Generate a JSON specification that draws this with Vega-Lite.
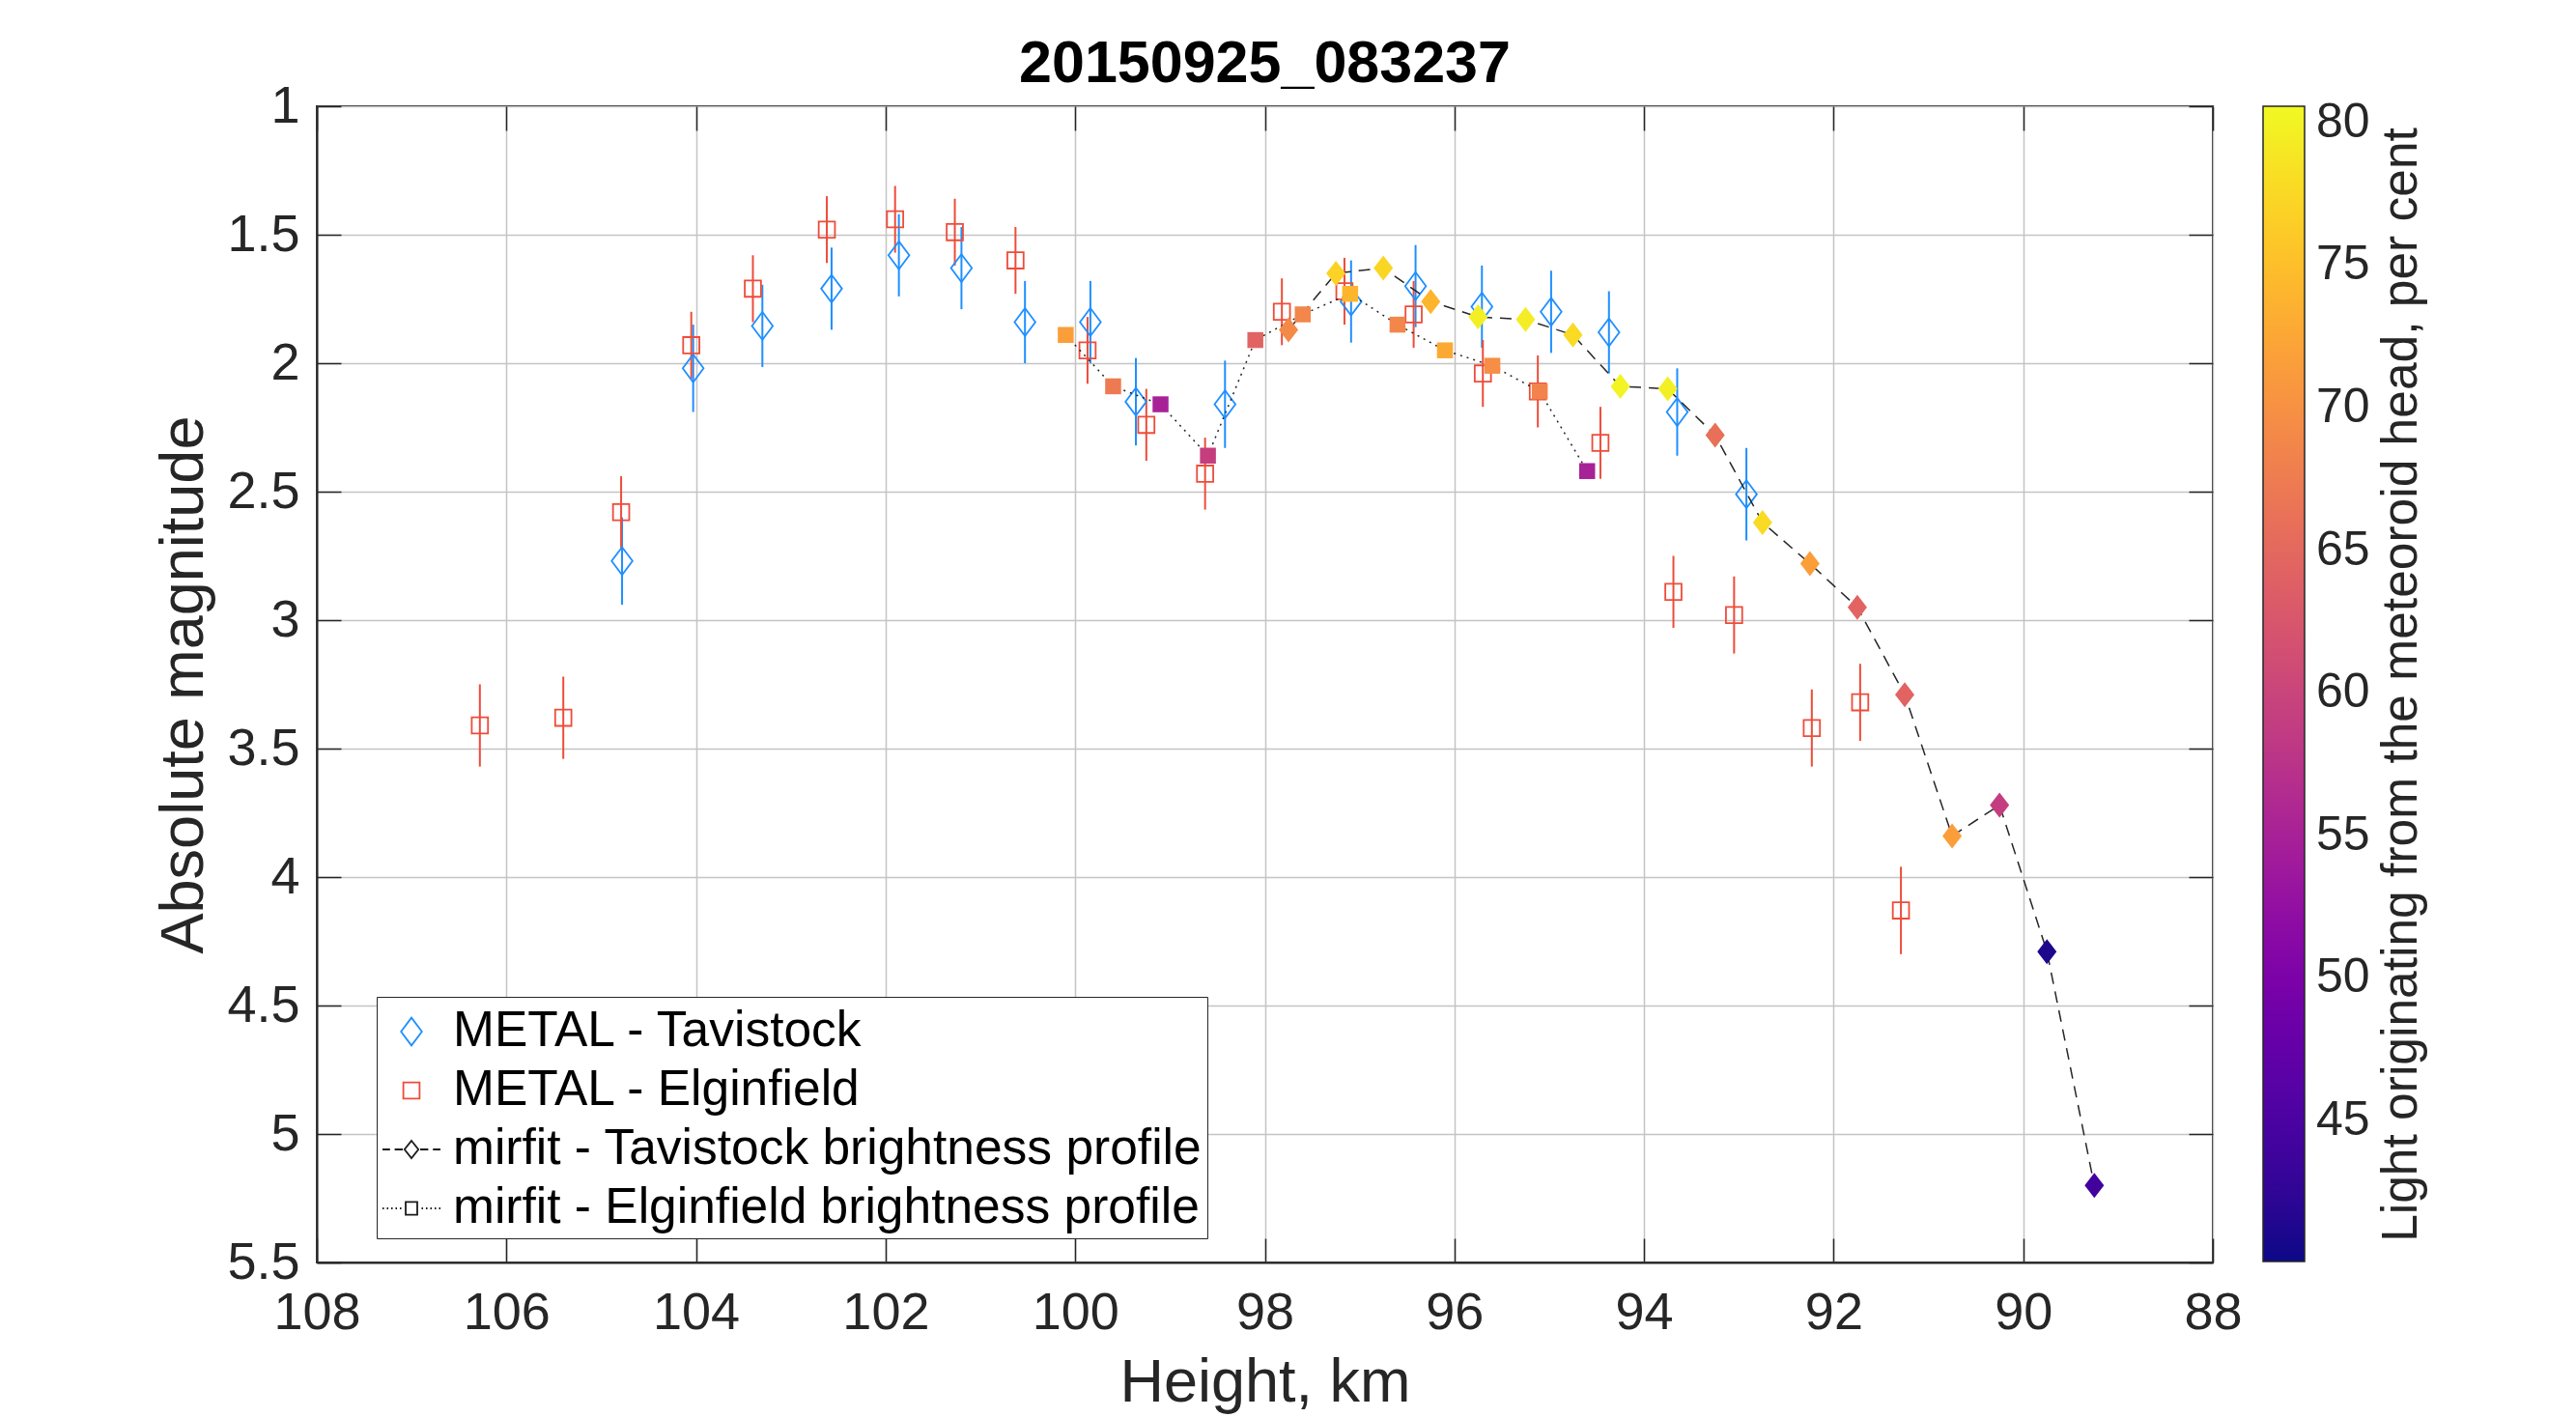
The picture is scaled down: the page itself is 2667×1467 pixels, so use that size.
{
  "$schema": "https://vega.github.io/schema/vega-lite/v6.json",
  "width": 1963,
  "height": 1197,
  "autosize": {"type": "none"},
  "padding": {"left": 328, "top": 110, "right": 376, "bottom": 160},
  "background": "white",
  "config": {
    "font": "Liberation Sans",
    "view": {"stroke": "#262626", "strokeWidth": 2},
    "axis": {
      "labelFontSize": 54,
      "labelColor": "#262626",
      "titleFontSize": 63,
      "titleFontWeight": "normal",
      "titleColor": "#262626",
      "gridColor": "#c4c4c4",
      "gridWidth": 1.5,
      "domainColor": "#262626",
      "domainWidth": 2,
      "tickColor": "#262626",
      "tickWidth": 1.5,
      "tickSize": -25,
      "labelFlush": false,
      "labelOverlap": false
    }
  },
  "title": {
    "text": "20150925_083237",
    "fontSize": 61,
    "fontWeight": "bold",
    "color": "#000000",
    "offset": -15,
    "anchor": "middle"
  },
  "datasets": {
    "metal": [
      {"series": "METAL - Tavistock", "h": 104.78, "mag": 2.77, "err": 0.17},
      {"series": "METAL - Tavistock", "h": 104.03, "mag": 2.02, "err": 0.17},
      {"series": "METAL - Tavistock", "h": 103.30, "mag": 1.855, "err": 0.16},
      {"series": "METAL - Tavistock", "h": 102.57, "mag": 1.71, "err": 0.16},
      {"series": "METAL - Tavistock", "h": 101.86, "mag": 1.58, "err": 0.16},
      {"series": "METAL - Tavistock", "h": 101.20, "mag": 1.63, "err": 0.16},
      {"series": "METAL - Tavistock", "h": 100.53, "mag": 1.84, "err": 0.16},
      {"series": "METAL - Tavistock", "h": 99.84, "mag": 1.84, "err": 0.16},
      {"series": "METAL - Tavistock", "h": 99.36, "mag": 2.15, "err": 0.17},
      {"series": "METAL - Tavistock", "h": 98.42, "mag": 2.16, "err": 0.17},
      {"series": "METAL - Tavistock", "h": 97.09, "mag": 1.76, "err": 0.16},
      {"series": "METAL - Tavistock", "h": 96.41, "mag": 1.70, "err": 0.16},
      {"series": "METAL - Tavistock", "h": 95.71, "mag": 1.78, "err": 0.16},
      {"series": "METAL - Tavistock", "h": 94.98, "mag": 1.80, "err": 0.16},
      {"series": "METAL - Tavistock", "h": 94.37, "mag": 1.88, "err": 0.16},
      {"series": "METAL - Tavistock", "h": 93.65, "mag": 2.19, "err": 0.17},
      {"series": "METAL - Tavistock", "h": 92.92, "mag": 2.51, "err": 0.18},
      {"series": "METAL - Elginfield", "h": 106.28, "mag": 3.41, "err": 0.16},
      {"series": "METAL - Elginfield", "h": 105.40, "mag": 3.38, "err": 0.16},
      {"series": "METAL - Elginfield", "h": 104.79, "mag": 2.58, "err": 0.14},
      {"series": "METAL - Elginfield", "h": 104.05, "mag": 1.93, "err": 0.13},
      {"series": "METAL - Elginfield", "h": 103.40, "mag": 1.71, "err": 0.13},
      {"series": "METAL - Elginfield", "h": 102.62, "mag": 1.48, "err": 0.13},
      {"series": "METAL - Elginfield", "h": 101.90, "mag": 1.44, "err": 0.13},
      {"series": "METAL - Elginfield", "h": 101.27, "mag": 1.49, "err": 0.13},
      {"series": "METAL - Elginfield", "h": 100.63, "mag": 1.60, "err": 0.13},
      {"series": "METAL - Elginfield", "h": 99.87, "mag": 1.95, "err": 0.13},
      {"series": "METAL - Elginfield", "h": 99.25, "mag": 2.24, "err": 0.14},
      {"series": "METAL - Elginfield", "h": 98.63, "mag": 2.43, "err": 0.14},
      {"series": "METAL - Elginfield", "h": 97.82, "mag": 1.80, "err": 0.13},
      {"series": "METAL - Elginfield", "h": 97.16, "mag": 1.72, "err": 0.13},
      {"series": "METAL - Elginfield", "h": 96.43, "mag": 1.81, "err": 0.13},
      {"series": "METAL - Elginfield", "h": 95.70, "mag": 2.04, "err": 0.13},
      {"series": "METAL - Elginfield", "h": 95.12, "mag": 2.11, "err": 0.14},
      {"series": "METAL - Elginfield", "h": 94.46, "mag": 2.31, "err": 0.14},
      {"series": "METAL - Elginfield", "h": 93.69, "mag": 2.89, "err": 0.14},
      {"series": "METAL - Elginfield", "h": 93.05, "mag": 2.98, "err": 0.15},
      {"series": "METAL - Elginfield", "h": 92.23, "mag": 3.42, "err": 0.15},
      {"series": "METAL - Elginfield", "h": 91.72, "mag": 3.32, "err": 0.15},
      {"series": "METAL - Elginfield", "h": 91.29, "mag": 4.13, "err": 0.17}
    ],
    "mirfit": [
      {"series": "Tavistock", "h": 97.75, "mag": 1.87, "pct": 69.2},
      {"series": "Tavistock", "h": 97.25, "mag": 1.65, "pct": 76.9},
      {"series": "Tavistock", "h": 96.75, "mag": 1.63, "pct": 77.3},
      {"series": "Tavistock", "h": 96.25, "mag": 1.76, "pct": 74.0},
      {"series": "Tavistock", "h": 95.75, "mag": 1.82, "pct": 79.7},
      {"series": "Tavistock", "h": 95.25, "mag": 1.83, "pct": 79.5},
      {"series": "Tavistock", "h": 94.75, "mag": 1.89, "pct": 77.7},
      {"series": "Tavistock", "h": 94.25, "mag": 2.09, "pct": 80.1},
      {"series": "Tavistock", "h": 93.75, "mag": 2.10, "pct": 79.7},
      {"series": "Tavistock", "h": 93.25, "mag": 2.28, "pct": 66.0},
      {"series": "Tavistock", "h": 92.75, "mag": 2.62, "pct": 77.7},
      {"series": "Tavistock", "h": 92.25, "mag": 2.78, "pct": 71.6},
      {"series": "Tavistock", "h": 91.75, "mag": 2.95, "pct": 64.3},
      {"series": "Tavistock", "h": 91.25, "mag": 3.29, "pct": 64.3},
      {"series": "Tavistock", "h": 90.75, "mag": 3.84, "pct": 71.6},
      {"series": "Tavistock", "h": 90.25, "mag": 3.72, "pct": 59.1},
      {"series": "Tavistock", "h": 89.75, "mag": 4.29, "pct": 41.0},
      {"series": "Tavistock", "h": 89.25, "mag": 5.20, "pct": 44.1},
      {"series": "Elginfield", "h": 100.1, "mag": 1.89, "pct": 71.6},
      {"series": "Elginfield", "h": 99.6, "mag": 2.09, "pct": 67.2},
      {"series": "Elginfield", "h": 99.1, "mag": 2.16, "pct": 55.0},
      {"series": "Elginfield", "h": 98.6, "mag": 2.36, "pct": 59.1},
      {"series": "Elginfield", "h": 98.1, "mag": 1.91, "pct": 64.3},
      {"series": "Elginfield", "h": 97.6, "mag": 1.81, "pct": 68.8},
      {"series": "Elginfield", "h": 97.1, "mag": 1.73, "pct": 74.0},
      {"series": "Elginfield", "h": 96.6, "mag": 1.85, "pct": 68.8},
      {"series": "Elginfield", "h": 96.1, "mag": 1.95, "pct": 72.8},
      {"series": "Elginfield", "h": 95.6, "mag": 2.01, "pct": 69.6},
      {"series": "Elginfield", "h": 95.1, "mag": 2.11, "pct": 68.4},
      {"series": "Elginfield", "h": 94.6, "mag": 2.42, "pct": 55.0}
    ]
  },
  "encoding": {
    "x": {
      "field": "h",
      "type": "quantitative",
      "title": "Height, km",
      "scale": {"domain": [88, 108], "reverse": true, "nice": false, "zero": false},
      "axis": {
        "values": [88, 90, 92, 94, 96, 98, 100, 102, 104, 106, 108],
        "labelPadding": 50,
        "titlePadding": 14
      }
    },
    "y": {
      "field": "mag",
      "type": "quantitative",
      "title": "Absolute magnitude",
      "scale": {"domain": [1, 5.5], "reverse": true, "nice": false, "zero": false},
      "axis": {
        "values": [1, 1.5, 2, 2.5, 3, 3.5, 4, 4.5, 5, 5.5],
        "format": "~g",
        "labelPadding": 43,
        "titlePadding": 12
      }
    }
  },
  "resolve": {"axis": {"x": "independent", "y": "independent"}},
  "layer": [
    {
      "layer": [
        {
          "data": {"name": "metal"},
          "transform": [{"filter": "datum.series == 'METAL - Tavistock'"}],
          "mark": {"type": "errorbar", "color": "#1f8fff", "thickness": 2},
          "encoding": {"yError": {"field": "err"}}
        },
        {
          "data": {"name": "metal"},
          "transform": [{"filter": "datum.series == 'METAL - Elginfield'"}],
          "mark": {"type": "errorbar", "color": "#ee4c3a", "thickness": 2},
          "encoding": {"yError": {"field": "err"}}
        },
        {
          "data": {"name": "metal"},
          "mark": {"type": "point", "filled": false, "size": 3600, "strokeWidth": 1.8, "opacity": 1},
          "encoding": {
            "shape": {
              "field": "series",
              "type": "nominal",
              "scale": {
                "domain": ["METAL - Tavistock", "METAL - Elginfield", "mirfit - Tavistock brightness profile", "mirfit - Elginfield brightness profile"],
                "range": [
                  "M0,-0.48L0.36,0L0,0.48L-0.36,0Z",
                  "M-0.28,-0.28L0.28,-0.28L0.28,0.28L-0.28,0.28Z",
                  "M-1,0L-0.74,0M-0.58,0L-0.3,0M0.3,0L0.58,0M0.74,0L1,0M0,-0.3L0.24,0L0,0.3L-0.24,0Z",
                  "M-1,0L-0.95,0M-0.85,0L-0.8,0M-0.7,0L-0.65,0M-0.55,0L-0.5,0M-0.4,0L-0.35,0M-0.2,-0.22L0.2,-0.22L0.2,0.22L-0.2,0.22ZM0.35,0L0.4,0M0.5,0L0.55,0M0.65,0L0.7,0M0.8,0L0.85,0M0.95,0L1,0"
                ]
              },
              "legend": {
                "title": null,
                "orient": "none",
                "legendX": 62,
                "legendY": 922,
                "padding": 5,
                "strokeColor": "#262626",
                "fillColor": "white",
                "symbolSize": 3600,
                "symbolStrokeWidth": 1.8,
                "labelFontSize": 51.5,
                "labelColor": "#000000",
                "labelOffset": 12,
                "labelLimit": 2000,
                "rowPadding": 4
              }
            },
            "stroke": {
              "field": "series",
              "type": "nominal",
              "scale": {
                "domain": ["METAL - Tavistock", "METAL - Elginfield", "mirfit - Tavistock brightness profile", "mirfit - Elginfield brightness profile"],
                "range": ["#1f8fff", "#ee4c3a", "#1a1a1a", "#1a1a1a"]
              },
              "legend": {
                "title": null,
                "orient": "none",
                "legendX": 62,
                "legendY": 922,
                "padding": 5,
                "strokeColor": "#262626",
                "fillColor": "white",
                "symbolSize": 3600,
                "symbolStrokeWidth": 1.8,
                "labelFontSize": 51.5,
                "labelColor": "#000000",
                "labelOffset": 12,
                "labelLimit": 2000,
                "rowPadding": 4
              }
            }
          }
        },
        {
          "data": {"name": "mirfit"},
          "transform": [{"filter": "datum.series == 'Tavistock'"}],
          "mark": {"type": "line", "color": "#262626", "strokeWidth": 1.5, "strokeDash": [12, 8]},
          "encoding": {}
        },
        {
          "data": {"name": "mirfit"},
          "transform": [{"filter": "datum.series == 'Elginfield'"}],
          "mark": {"type": "line", "color": "#262626", "strokeWidth": 1.5, "strokeDash": [2, 5]},
          "encoding": {}
        },
        {
          "data": {"name": "mirfit"},
          "transform": [{"filter": "datum.series == 'Elginfield'"}],
          "mark": {"type": "point", "filled": true, "shape": "square", "size": 272, "opacity": 1, "strokeWidth": 0},
          "encoding": {
            "color": {
              "field": "pct",
              "type": "quantitative",
              "scale": {"scheme": "plasma", "domain": [40.06, 80.56]},
              "legend": {
                "title": null,
                "orient": "none",
                "legendX": 2015,
                "legendY": 0,
                "padding": 0,
                "direction": "vertical",
                "gradientLength": 1196,
                "gradientThickness": 43,
                "gradientStrokeColor": "#262626",
                "gradientStrokeWidth": 1.5,
                "values": [45, 50, 55, 60, 65, 70, 75, 80],
                "labelFontSize": 50,
                "labelColor": "#262626",
                "labelOffset": 12,
                "labelOverlap": false
              }
            }
          }
        },
        {
          "data": {"name": "mirfit"},
          "transform": [{"filter": "datum.series == 'Tavistock'"}],
          "mark": {"type": "point", "filled": true, "shape": "M0,-1L0.77,0L0,1L-0.77,0Z", "size": 676, "opacity": 1, "strokeWidth": 0},
          "encoding": {
            "color": {
              "field": "pct",
              "type": "quantitative",
              "scale": {"scheme": "plasma", "domain": [40.06, 80.56]},
              "legend": {
                "title": null,
                "orient": "none",
                "legendX": 2015,
                "legendY": 0,
                "padding": 0,
                "direction": "vertical",
                "gradientLength": 1196,
                "gradientThickness": 43,
                "gradientStrokeColor": "#262626",
                "gradientStrokeWidth": 1.5,
                "values": [45, 50, 55, 60, 65, 70, 75, 80],
                "labelFontSize": 50,
                "labelColor": "#262626",
                "labelOffset": 12,
                "labelOverlap": false
              }
            }
          }
        }
      ]
    },
    {
      "data": {"name": "mirfit"},
      "mark": {"type": "point", "opacity": 0},
      "encoding": {
        "x": {
          "field": "h",
          "type": "quantitative",
          "title": null,
          "scale": {"domain": [88, 108], "reverse": true, "nice": false, "zero": false},
          "axis": {
            "orient": "top",
            "values": [88, 90, 92, 94, 96, 98, 100, 102, 104, 106, 108],
            "labels": false,
            "grid": false,
            "domain": false,
            "title": null
          }
        },
        "y": {
          "field": "mag",
          "type": "quantitative",
          "title": "Light originating from the meteoroid head, per cent",
          "scale": {"domain": [1, 5.5], "reverse": true, "nice": false, "zero": false},
          "axis": {
            "orient": "right",
            "values": [1, 1.5, 2, 2.5, 3, 3.5, 4, 4.5, 5, 5.5],
            "labels": false,
            "grid": false,
            "domain": false,
            "title": "Light originating from the meteoroid head, per cent",
            "titleFontSize": 51.5,
            "titleAngle": -90,
            "titleBaseline": "top",
            "titlePadding": 169
          }
        }
      }
    }
  ]
}
